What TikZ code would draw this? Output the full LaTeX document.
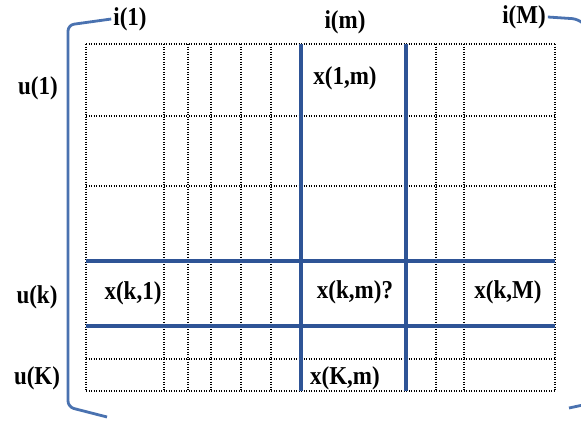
\documentclass[tikz,border=0pt]{standalone}
\usepackage{fontspec}
\setmainfont{Liberation Serif}
\usepackage{xcolor}
\usepackage{tikz}
\usetikzlibrary{positioning}
\definecolor{gridblue}{RGB}{46,84,150}
\definecolor{brblue}{RGB}{74,114,176}

\begin{document}
\begin{tikzpicture}[x=1pt,y=-1pt,
  lbl/.style={font=\fontsize{23}{25}\selectfont\bfseries,inner sep=0pt,yscale=1.12},
  dotline/.style={line width=1.5pt,dash pattern=on 1.4pt off 1.1pt},
  bandline/.style={line width=4pt,gridblue},
  bracket/.style={line width=2.8pt,brblue,rounded corners=6pt}]
  \useasboundingbox (0,0) rectangle (581,421);

  % dotted grid
  \foreach \gx in {86,164,188,211,241,271,436,464,555}
    \draw[dotline] (\gx,44) -- (\gx,391);
  \foreach \gy in {44,116,186,359,391}
    \draw[dotline] (86,\gy) -- (555,\gy);

  % row k and column m
  \draw[bandline] (301,44) -- (301,391);
  \draw[bandline] (406,44) -- (406,391);
  \draw[bandline] (86,261) -- (555,261);
  \draw[bandline] (86,326) -- (555,326);

  % labels
  \node[lbl] (i1) at (130,19) {i(1)};
  \node[lbl] (im) at (345,22) {i(m)};
  \node[lbl] (iM) at (524,17) {i(M)};
  \node[lbl] (u1) at (38,88) {u(1)};
  \node[lbl] (uk) at (37,297) {u(k)};
  \node[lbl] (uK) at (37,378) {u(K)};
  \node[lbl] (x1m) at (345,78) {x(1,m)};
  \node[lbl] (xk1) at (133,293) {x(k,1)};
  \node[lbl] (xkm) at (355,292) {x(k,m)?};
  \node[lbl] (xkM) at (508,292) {x(k,M)};
  \node[lbl] (xKm) at (345,378) {x(K,m)};

  % matrix brackets
  \draw[bracket] ([xshift=-2pt]i1.west) -- (68,25) -- (68,407) -- (107,417);
  \draw[bracket] ([xshift=2pt]iM.east) -- (578,19) -- (586,26);
  \draw[bracket] (569,408) -- (583,405);
\end{tikzpicture}
\end{document}
